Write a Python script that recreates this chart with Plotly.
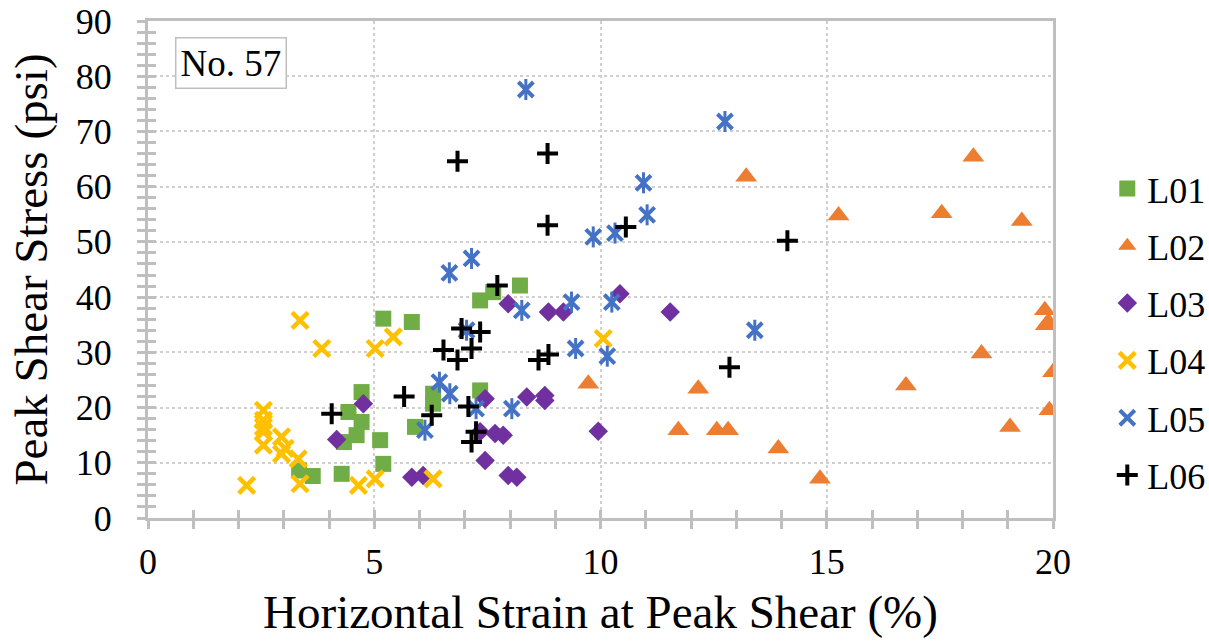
import plotly.graph_objects as go

# ---- data ----
l01_x = [3.34, 3.64, 4.28, 4.33, 4.43, 4.61, 4.72, 4.72, 5.13, 5.2, 5.2, 5.83, 5.9, 6.3, 6.3, 7.34, 7.34, 7.63, 8.22]
l01_y = [8.6, 7.6, 8.0, 13.75, 19.2, 15.0, 17.4, 22.8, 14.1, 9.8, 36.1, 35.5, 16.5, 22.5, 20.7, 23.1, 39.4, 40.9, 42.1]

l02_x = [9.73, 11.72, 12.16, 12.57, 12.82, 13.22, 13.93, 14.85, 15.26, 16.75, 17.54, 18.24, 18.42, 19.05, 19.31, 19.82, 19.9, 19.84, 19.92, 20.0]
l02_y = [24.3, 15.9, 23.4, 15.9, 15.9, 61.8, 12.6, 7.1, 54.8, 24.0, 55.2, 65.4, 29.8, 16.5, 53.8, 37.6, 35.5, 34.9, 19.5, 26.4]

l03_x = [4.17, 4.76, 5.83, 6.08, 7.34, 7.45, 7.45, 7.67, 7.85, 7.96, 7.96, 8.15, 8.37, 8.77, 8.77, 8.85, 9.18, 9.95, 10.43, 11.54]
l03_y = [14.2, 20.7, 7.4, 7.7, 15.6, 21.6, 10.4, 15.3, 15.0, 38.8, 7.7, 7.4, 21.9, 22.2, 21.3, 37.3, 37.3, 15.7, 40.6, 37.3]

l04_x = [2.18, 2.55, 2.55, 2.55, 2.55, 2.55, 2.95, 2.95, 3.03, 3.32, 3.36, 3.36, 3.84, 4.65, 5.02, 5.02, 5.42, 6.3, 10.06]
l04_y = [5.9, 19.5, 17.7, 16.5, 15.6, 13.2, 14.7, 11.6, 12.6, 10.7, 6.2, 35.8, 30.7, 5.9, 7.1, 30.7, 32.8, 7.1, 32.5]

l05_x = [6.12, 6.44, 6.66, 6.67, 7.04, 7.15, 7.25, 8.04, 8.26, 8.35, 9.36, 9.45, 9.84, 10.15, 10.25, 10.32, 10.95, 11.03, 12.75, 13.41]
l05_y = [15.9, 24.6, 44.4, 22.5, 34.0, 47.0, 19.8, 19.8, 37.6, 77.6, 39.1, 30.7, 50.9, 29.3, 39.1, 51.6, 60.7, 54.9, 71.8, 34.0]

l06_x = [4.06, 5.66, 6.27, 6.53, 6.84, 6.84, 6.93, 7.08, 7.15, 7.15, 7.25, 7.34, 7.72, 8.63, 8.83, 8.83, 8.85, 10.56, 12.85, 14.13]
l06_y = [18.9, 22.0, 18.6, 30.4, 28.6, 64.6, 34.3, 20.2, 30.7, 13.75, 15.6, 33.7, 42.1, 28.6, 66.0, 53.0, 29.6, 52.7, 27.3, 50.2]

x_ticks = [0, 5, 10, 15, 20]
y_ticks = [0, 10, 20, 30, 40, 50, 60, 70, 80, 90]

FONT = "serif"
AX = "#bfbfbf"

fig = go.Figure()

fig.add_trace(go.Scatter(x=l01_x, y=l01_y, mode="markers", name="L01", legendgroup="L01",
                         marker=dict(symbol="square", size=16, color="#70AD47")))
fig.add_trace(go.Scatter(x=l02_x, y=l02_y, mode="markers", name="L02", legendgroup="L02",
                         marker=dict(symbol="triangle-up", size=19, color="#ED7D31")))
fig.add_trace(go.Scatter(x=l03_x, y=l03_y, mode="markers", name="L03", legendgroup="L03",
                         marker=dict(symbol="diamond", size=15, color="#7030A0")))
fig.add_trace(go.Scatter(x=l04_x, y=l04_y, mode="markers", name="L04", legendgroup="L04",
                         marker=dict(symbol="x-thin", size=16, color="#FFC000",
                                     line=dict(width=4.5, color="#FFC000"))))
fig.add_trace(go.Scatter(x=l05_x, y=l05_y, mode="markers", name="L05", legendgroup="L05",
                         marker=dict(symbol="x-thin", size=15, color="#4472C4",
                                     line=dict(width=4, color="#4472C4"))))
fig.add_trace(go.Scatter(x=l05_x, y=l05_y, mode="markers", name="L05", legendgroup="L05",
                         showlegend=False,
                         marker=dict(symbol="line-ns", size=15, color="#4472C4",
                                     line=dict(width=3, color="#4472C4"))))
fig.add_trace(go.Scatter(x=l06_x, y=l06_y, mode="markers", name="L06", legendgroup="L06",
                         marker=dict(symbol="cross-thin", size=15, color="#000000",
                                     line=dict(width=4, color="#000000"))))
# empty trace so the overlay axes (inner tick halves) render
fig.add_trace(go.Scatter(x=[None], y=[None], xaxis="x2", yaxis="y2", showlegend=False,
                         hoverinfo="skip"))

common_tick = dict(tickcolor=AX, tickwidth=3, ticklen=8)

fig.update_layout(
    width=1209, height=643,
    margin=dict(l=148, r=156, t=21, b=125, autoexpand=False),
    paper_bgcolor="white", plot_bgcolor="white",
    font=dict(family=FONT, color="black", size=36),
    xaxis=dict(range=[0, 20], tickvals=x_ticks, ticktext=[str(v) for v in x_ticks],
               showline=True, linecolor=AX, linewidth=3, mirror=True,
               showgrid=True, gridcolor="#d0d0d0", gridwidth=2, griddash="dot",
               zeroline=False, ticks="outside", **common_tick, automargin=False,
               minor=dict(dtick=1, ticks="outside", ticklen=8, tickcolor=AX, tickwidth=3, showgrid=False),
               tickfont=dict(size=36, family=FONT), ticklabelstandoff=2,
               title=dict(text="Horizontal Strain at Peak Shear (%)",
                          font=dict(size=47, family=FONT), standoff=14)),
    yaxis=dict(range=[0, 90], tickvals=y_ticks, ticktext=[str(v) for v in y_ticks],
               showline=True, linecolor=AX, linewidth=3, mirror=True,
               showgrid=True, gridcolor="#d0d0d0", gridwidth=2, griddash="dot",
               zeroline=False, ticks="outside", **common_tick, automargin=False,
               minor=dict(dtick=2, ticks="outside", ticklen=8, tickcolor=AX, tickwidth=3, showgrid=False),
               tickfont=dict(size=36, family=FONT), ticklabelstandoff=18,
               title=dict(text="Peak Shear Stress (psi)", font=dict(size=47, family=FONT), standoff=14)),
    xaxis2=dict(range=[0, 20], overlaying="x", anchor="y", side="bottom",
                showticklabels=False, showgrid=False, zeroline=False, showline=False,
                tickvals=x_ticks, ticks="inside", **common_tick,
                minor=dict(dtick=1, ticks="inside", ticklen=8, tickcolor=AX, tickwidth=3, showgrid=False)),
    yaxis2=dict(range=[0, 90], overlaying="y", anchor="x", side="left",
                showticklabels=False, showgrid=False, zeroline=False, showline=False,
                tickvals=y_ticks, ticks="inside", **common_tick,
                minor=dict(dtick=2, ticks="inside", ticklen=8, tickcolor=AX, tickwidth=3, showgrid=False)),
    legend=dict(x=1.06, xanchor="left", y=0.374, yanchor="middle",
                font=dict(size=36, family=FONT), tracegroupgap=7.5, itemwidth=30,
                bgcolor="rgba(0,0,0,0)"),
    showlegend=True,
)

fig.add_annotation(text="No. 57", xref="paper", yref="paper", x=0.0917, y=0.9155,
                   xanchor="center", yanchor="middle", showarrow=False,
                   font=dict(size=37, family=FONT),
                   bordercolor=AX, borderwidth=1.5, borderpad=4, bgcolor="white")

fig.write_html("out.html")
